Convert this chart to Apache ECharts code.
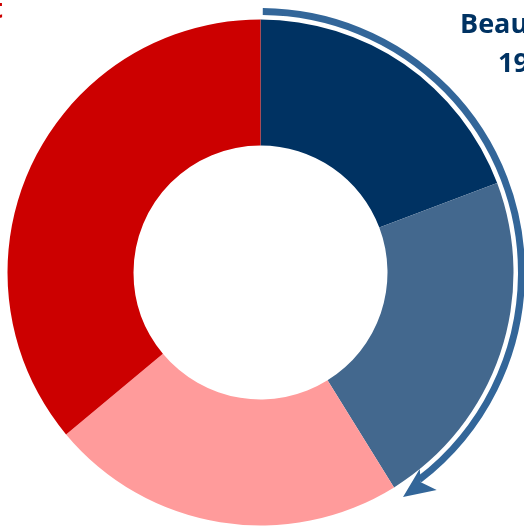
<!DOCTYPE html>
<html>
<head>
<meta charset="utf-8">
<script src="https://cdn.jsdelivr.net/npm/echarts@6/dist/echarts.min.js"></script>
<style>
  html, body { margin: 0; padding: 0; background: #ffffff; }
  #chart { width: 524px; height: 526px; }
</style>
</head>
<body>
<div id="chart"></div>
<script>
// Share of sales by category (percent)
const categories = ['Beauté', 'Accessoires', 'Maison', 'Habillement'];
const shares = [19.25, 21.9, 22.8, 36.05];
const colors = ['#003262', '#43688E', '#FF9B9B', '#CC0000'];

const cx = 260.5, cy = 272.5;
const chart = echarts.init(document.getElementById('chart'));

// Curved arrow running clockwise around the first two slices
const arrowR = 261;
const deg = d => -Math.PI / 2 + d * Math.PI / 180;
const pt = (d, r) => [cx + r * Math.cos(deg(d)), cy + r * Math.sin(deg(d))];
const head = [pt(141, 253), pt(142.6, 264), pt(141, 280), pt(147.6, 266)];

chart.setOption({
  animation: false,
  series: [{
    type: 'pie',
    center: [cx, cy],
    radius: [127, 253],
    startAngle: 90,
    clockwise: true,
    label: { show: false },
    labelLine: { show: false },
    itemStyle: { borderWidth: 0 },
    data: categories.map((c, i) => ({ name: c, value: shares[i], itemStyle: { color: colors[i] } }))
  }],
  graphic: [
    {
      type: 'arc',
      shape: { cx: cx, cy: cy, r: arrowR, startAngle: deg(0.5), endAngle: deg(142.5), clockwise: true },
      style: { stroke: '#336699', lineWidth: 7, fill: null }
    },
    {
      type: 'polygon',
      shape: { points: head },
      style: { fill: '#336699' }
    },
    {
      type: 'text',
      x: 460, y: 12,
      style: {
        text: categories[0],
        fill: '#003262',
        font: 'bold 27px "Open Sans", sans-serif',
        align: 'left'
      }
    },
    {
      type: 'text',
      x: 498, y: 51,
      style: {
        text: Math.round(shares[0]) + '%',
        fill: '#003262',
        font: 'bold 27px "Open Sans", sans-serif',
        align: 'left'
      }
    },
    {
      type: 'text',
      x: 3, y: -3,
      style: {
        text: categories[3],
        fill: '#CC0000',
        font: 'bold 27px "Open Sans", sans-serif',
        align: 'right'
      }
    }
  ]
});
</script>
</body>
</html>
